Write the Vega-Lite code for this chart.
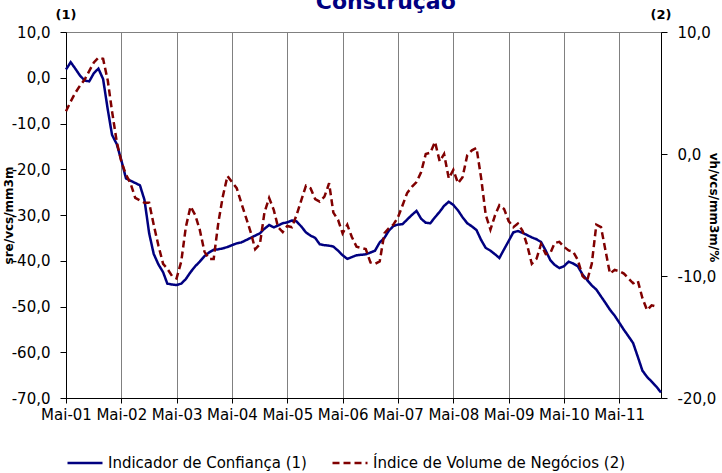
{
  "$schema": "https://vega.github.io/schema/vega-lite/v6.json",
  "width": 595,
  "height": 366,
  "autosize": {"type": "none"},
  "padding": {"left": 66, "top": 32, "right": 61, "bottom": 75},
  "background": "white",
  "config": {
    "font": "DejaVu Sans",
    "view": {"stroke": "#808080", "strokeWidth": 1}
  },
  "data": {
    "values": [
      {"d": "2001-05-01", "c": 1.8, "v": 3.5},
      {"d": "2001-06-01", "c": 3.4, "v": 4.3},
      {"d": "2001-07-01", "c": 2.0, "v": 5.0},
      {"d": "2001-08-01", "c": 0.5, "v": 5.6},
      {"d": "2001-09-01", "c": -0.6, "v": 6.1},
      {"d": "2001-10-01", "c": -0.8, "v": 6.8},
      {"d": "2001-11-01", "c": 1.0, "v": 7.5},
      {"d": "2001-12-01", "c": 2.0, "v": 7.9},
      {"d": "2002-01-01", "c": -0.3, "v": 7.8},
      {"d": "2002-02-01", "c": -7.0, "v": 6.0},
      {"d": "2002-03-01", "c": -12.5, "v": 3.5},
      {"d": "2002-04-01", "c": -14.5, "v": 1.0},
      {"d": "2002-05-01", "c": -18.0, "v": -0.6},
      {"d": "2002-06-01", "c": -22.0, "v": -1.7},
      {"d": "2002-07-01", "c": -22.5, "v": -2.4},
      {"d": "2002-08-01", "c": -23.0, "v": -3.6},
      {"d": "2002-09-01", "c": -23.5, "v": -3.8},
      {"d": "2002-10-01", "c": -26.7, "v": -4.0},
      {"d": "2002-11-01", "c": -34.0, "v": -4.0},
      {"d": "2002-12-01", "c": -38.5, "v": -5.8},
      {"d": "2003-01-01", "c": -40.8, "v": -7.5},
      {"d": "2003-02-01", "c": -42.5, "v": -9.0},
      {"d": "2003-03-01", "c": -45.0, "v": -9.4},
      {"d": "2003-04-01", "c": -45.2, "v": -10.0},
      {"d": "2003-05-01", "c": -45.3, "v": -10.2},
      {"d": "2003-06-01", "c": -45.0, "v": -8.8},
      {"d": "2003-07-01", "c": -44.0, "v": -6.0},
      {"d": "2003-08-01", "c": -42.5, "v": -4.3},
      {"d": "2003-09-01", "c": -41.2, "v": -5.0},
      {"d": "2003-10-01", "c": -40.2, "v": -6.2},
      {"d": "2003-11-01", "c": -39.0, "v": -8.0},
      {"d": "2003-12-01", "c": -38.2, "v": -8.6},
      {"d": "2004-01-01", "c": -37.6, "v": -8.6},
      {"d": "2004-02-01", "c": -37.5, "v": -5.6},
      {"d": "2004-03-01", "c": -37.3, "v": -3.5},
      {"d": "2004-04-01", "c": -37.0, "v": -1.8},
      {"d": "2004-05-01", "c": -36.6, "v": -2.3},
      {"d": "2004-06-01", "c": -36.2, "v": -2.8},
      {"d": "2004-07-01", "c": -36.0, "v": -4.0},
      {"d": "2004-08-01", "c": -35.5, "v": -5.2},
      {"d": "2004-09-01", "c": -35.0, "v": -6.4},
      {"d": "2004-10-01", "c": -34.5, "v": -7.8},
      {"d": "2004-11-01", "c": -34.0, "v": -7.4},
      {"d": "2004-12-01", "c": -33.0, "v": -4.8},
      {"d": "2005-01-01", "c": -32.2, "v": -3.6},
      {"d": "2005-02-01", "c": -32.7, "v": -4.6},
      {"d": "2005-03-01", "c": -32.3, "v": -6.0},
      {"d": "2005-04-01", "c": -31.8, "v": -6.4},
      {"d": "2005-05-01", "c": -31.6, "v": -5.9},
      {"d": "2005-06-01", "c": -31.2, "v": -6.0},
      {"d": "2005-07-01", "c": -31.4, "v": -5.0},
      {"d": "2005-08-01", "c": -32.5, "v": -3.8},
      {"d": "2005-09-01", "c": -33.8, "v": -2.6},
      {"d": "2005-10-01", "c": -34.5, "v": -2.8},
      {"d": "2005-11-01", "c": -35.0, "v": -3.7},
      {"d": "2005-12-01", "c": -36.4, "v": -3.9},
      {"d": "2006-01-01", "c": -36.6, "v": -3.5},
      {"d": "2006-02-01", "c": -36.7, "v": -2.4},
      {"d": "2006-03-01", "c": -36.9, "v": -4.8},
      {"d": "2006-04-01", "c": -37.8, "v": -5.4},
      {"d": "2006-05-01", "c": -38.8, "v": -6.5},
      {"d": "2006-06-01", "c": -39.6, "v": -5.8},
      {"d": "2006-07-01", "c": -39.2, "v": -6.8},
      {"d": "2006-08-01", "c": -38.8, "v": -7.6},
      {"d": "2006-09-01", "c": -38.7, "v": -7.7},
      {"d": "2006-10-01", "c": -38.6, "v": -7.8},
      {"d": "2006-11-01", "c": -38.2, "v": -8.9},
      {"d": "2006-12-01", "c": -37.8, "v": -9.0},
      {"d": "2007-01-01", "c": -36.0, "v": -8.8},
      {"d": "2007-02-01", "c": -35.0, "v": -6.5},
      {"d": "2007-03-01", "c": -33.5, "v": -6.1},
      {"d": "2007-04-01", "c": -32.4, "v": -5.8},
      {"d": "2007-05-01", "c": -32.1, "v": -5.2},
      {"d": "2007-06-01", "c": -32.0, "v": -4.2},
      {"d": "2007-07-01", "c": -31.0, "v": -3.2},
      {"d": "2007-08-01", "c": -30.0, "v": -2.7},
      {"d": "2007-09-01", "c": -29.1, "v": -2.3},
      {"d": "2007-10-01", "c": -30.8, "v": -1.5},
      {"d": "2007-11-01", "c": -31.7, "v": 0.0},
      {"d": "2007-12-01", "c": -31.8, "v": 0.1},
      {"d": "2008-01-01", "c": -30.5, "v": 1.0},
      {"d": "2008-02-01", "c": -29.3, "v": -0.6},
      {"d": "2008-03-01", "c": -28.0, "v": 0.0},
      {"d": "2008-04-01", "c": -27.1, "v": -2.0},
      {"d": "2008-05-01", "c": -27.8, "v": -1.3},
      {"d": "2008-06-01", "c": -29.0, "v": -2.4},
      {"d": "2008-07-01", "c": -30.5, "v": -1.9},
      {"d": "2008-08-01", "c": -31.8, "v": -0.1},
      {"d": "2008-09-01", "c": -32.5, "v": 0.3},
      {"d": "2008-10-01", "c": -33.3, "v": 0.5},
      {"d": "2008-11-01", "c": -35.5, "v": -2.0},
      {"d": "2008-12-01", "c": -37.2, "v": -5.0},
      {"d": "2009-01-01", "c": -37.8, "v": -6.2},
      {"d": "2009-02-01", "c": -38.6, "v": -5.0},
      {"d": "2009-03-01", "c": -39.4, "v": -4.2},
      {"d": "2009-04-01", "c": -37.5, "v": -4.5},
      {"d": "2009-05-01", "c": -35.7, "v": -5.5},
      {"d": "2009-06-01", "c": -33.8, "v": -6.0},
      {"d": "2009-07-01", "c": -33.5, "v": -5.7},
      {"d": "2009-08-01", "c": -33.9, "v": -6.3},
      {"d": "2009-09-01", "c": -34.4, "v": -7.5},
      {"d": "2009-10-01", "c": -34.9, "v": -9.0},
      {"d": "2009-11-01", "c": -35.3, "v": -8.6},
      {"d": "2009-12-01", "c": -35.9, "v": -7.4},
      {"d": "2010-01-01", "c": -37.8, "v": -8.2},
      {"d": "2010-02-01", "c": -39.9, "v": -8.1},
      {"d": "2010-03-01", "c": -40.9, "v": -7.3},
      {"d": "2010-04-01", "c": -41.6, "v": -7.2},
      {"d": "2010-05-01", "c": -41.2, "v": -7.6},
      {"d": "2010-06-01", "c": -40.2, "v": -7.9},
      {"d": "2010-07-01", "c": -40.6, "v": -8.0},
      {"d": "2010-08-01", "c": -41.2, "v": -8.7},
      {"d": "2010-09-01", "c": -43.0, "v": -10.0},
      {"d": "2010-10-01", "c": -44.2, "v": -10.4},
      {"d": "2010-11-01", "c": -45.4, "v": -9.0},
      {"d": "2010-12-01", "c": -46.3, "v": -5.8},
      {"d": "2011-01-01", "c": -47.8, "v": -6.0},
      {"d": "2011-02-01", "c": -49.3, "v": -8.0},
      {"d": "2011-03-01", "c": -50.7, "v": -9.8},
      {"d": "2011-04-01", "c": -52.0, "v": -9.5},
      {"d": "2011-05-01", "c": -53.5, "v": -9.6},
      {"d": "2011-06-01", "c": -55.1, "v": -9.8},
      {"d": "2011-07-01", "c": -56.5, "v": -10.2},
      {"d": "2011-08-01", "c": -58.0, "v": -10.6},
      {"d": "2011-09-01", "c": -61.0, "v": -10.4},
      {"d": "2011-10-01", "c": -64.0, "v": -11.8},
      {"d": "2011-11-01", "c": -65.4, "v": -12.8},
      {"d": "2011-12-01", "c": -66.4, "v": -12.4},
      {"d": "2012-01-01", "c": -67.5, "v": -12.5},
      {"d": "2012-02-01", "c": -68.8}
    ]
  },
  "encoding": {
    "x": {
      "field": "d",
      "type": "temporal",
      "title": null,
      "scale": {
        "type": "utc",
        "domain": [
          {"year": 2001, "month": 5, "date": 1, "utc": true},
          {"year": 2012, "month": 2, "date": 1, "utc": true}
        ]
      },
      "axis": {
        "values": [
          {"year": 2001, "month": 5, "date": 1, "utc": true},
          {"year": 2002, "month": 5, "date": 1, "utc": true},
          {"year": 2003, "month": 5, "date": 1, "utc": true},
          {"year": 2004, "month": 5, "date": 1, "utc": true},
          {"year": 2005, "month": 5, "date": 1, "utc": true},
          {"year": 2006, "month": 5, "date": 1, "utc": true},
          {"year": 2007, "month": 5, "date": 1, "utc": true},
          {"year": 2008, "month": 5, "date": 1, "utc": true},
          {"year": 2009, "month": 5, "date": 1, "utc": true},
          {"year": 2010, "month": 5, "date": 1, "utc": true},
          {"year": 2011, "month": 5, "date": 1, "utc": true}
        ],
        "labelExpr": "'Mai-' + utcFormat(datum.value, '%y')",
        "labelFontSize": 15,
        "labelColor": "black",
        "labelPadding": 4,
        "labelOverlap": false,
        "labelFlush": false,
        "grid": true,
        "gridColor": "#808080",
        "gridWidth": 1,
        "domainColor": "black",
        "domainWidth": 1,
        "tickColor": "black",
        "tickSize": 5
      }
    }
  },
  "layer": [
    {
      "layer": [
        {
          "mark": {"type": "line", "strokeWidth": 2.5},
          "encoding": {
            "y": {
              "field": "c",
              "type": "quantitative",
              "scale": {"domain": [-70, 10], "nice": false, "zero": false},
              "axis": {
                "orient": "left",
                "title": "sre/vcs/mm3m",
                "titleFontSize": 12,
                "titleFontWeight": "bold",
                "titleColor": "black",
                "titleX": -58,
                "titleY": 183,
                "titleAlign": "center",
                "titleBaseline": "middle",
                "values": [-70, -60, -50, -40, -30, -20, -10, 0, 10],
                "labelExpr": "replace((datum.value < 0 ? '-' : '') + format(abs(datum.value), '.1f'), '.', ',')",
                "labelFontSize": 15,
                "labelColor": "black",
                "labelPadding": 10,
                "grid": false,
                "domainColor": "black",
                "tickColor": "black",
                "tickSize": 6
              }
            },
            "color": {
              "datum": "Indicador de Confiança (1)",
              "type": "nominal",
              "scale": {
                "domain": ["Indicador de Confiança (1)", "Índice de Volume de Negócios (2)"],
                "range": ["#000080", "#800000"]
              },
              "legend": {
                "orient": "bottom",
                "direction": "horizontal",
                "title": null,
                "labelFontSize": 15,
                "labelColor": "black",
                "labelLimit": 0,
                "symbolType": "stroke",
                "symbolSize": 1225,
                "symbolStrokeWidth": 2.5,
                "columnPadding": 20,
                "offset": 22
              }
            },
            "strokeDash": {
              "datum": "Indicador de Confiança (1)",
              "type": "nominal",
              "scale": {
                "domain": ["Indicador de Confiança (1)", "Índice de Volume de Negócios (2)"],
                "range": [[1, 0], [7, 4]]
              },
              "legend": {
                "orient": "bottom",
                "direction": "horizontal",
                "title": null,
                "labelFontSize": 15,
                "labelColor": "black",
                "labelLimit": 0,
                "symbolType": "stroke",
                "symbolSize": 1225,
                "symbolStrokeWidth": 2.5,
                "columnPadding": 20,
                "offset": 22
              }
            }
          }
        },
        {
          "data": {
            "values": [
              {"d": "2001-05-01", "c": 10, "t": "(1)"},
              {"d": "2012-02-01", "c": 10, "t": "(2)"}
            ]
          },
          "mark": {"type": "text", "fontWeight": "bold", "fontSize": 13, "dy": -17, "align": "center", "baseline": "middle", "color": "black"},
          "encoding": {
            "y": {
              "field": "c",
              "type": "quantitative",
              "scale": {"domain": [-70, 10], "nice": false, "zero": false},
              "axis": {
                "orient": "left",
                "title": "sre/vcs/mm3m",
                "titleFontSize": 12,
                "titleFontWeight": "bold",
                "titleColor": "black",
                "titleX": -58,
                "titleY": 183,
                "titleAlign": "center",
                "titleBaseline": "middle",
                "values": [-70, -60, -50, -40, -30, -20, -10, 0, 10],
                "labelExpr": "replace((datum.value < 0 ? '-' : '') + format(abs(datum.value), '.1f'), '.', ',')",
                "labelFontSize": 15,
                "labelColor": "black",
                "labelPadding": 10,
                "grid": false,
                "domainColor": "black",
                "tickColor": "black",
                "tickSize": 6
              }
            },
            "text": {"field": "t"}
          }
        },
        {
          "data": {
            "values": [
              {"d": "2007-02-10", "c": 10, "t": "Construção"}
            ]
          },
          "mark": {"type": "text", "fontWeight": "bold", "fontSize": 22, "dy": -23, "align": "center", "baseline": "alphabetic", "color": "#000080"},
          "encoding": {
            "y": {
              "field": "c",
              "type": "quantitative",
              "scale": {"domain": [-70, 10], "nice": false, "zero": false},
              "axis": {
                "orient": "left",
                "title": "sre/vcs/mm3m",
                "titleFontSize": 12,
                "titleFontWeight": "bold",
                "titleColor": "black",
                "titleX": -58,
                "titleY": 183,
                "titleAlign": "center",
                "titleBaseline": "middle",
                "values": [-70, -60, -50, -40, -30, -20, -10, 0, 10],
                "labelExpr": "replace((datum.value < 0 ? '-' : '') + format(abs(datum.value), '.1f'), '.', ',')",
                "labelFontSize": 15,
                "labelColor": "black",
                "labelPadding": 10,
                "grid": false,
                "domainColor": "black",
                "tickColor": "black",
                "tickSize": 6
              }
            },
            "text": {"field": "t"}
          }
        }
      ]
    },
    {
      "mark": {"type": "line", "strokeWidth": 2.5},
      "encoding": {
        "y": {
          "field": "v",
          "type": "quantitative",
          "scale": {"domain": [-20, 10], "nice": false, "zero": false},
          "axis": {
            "orient": "right",
            "title": "vh/vcs/mm3m/%",
            "titleAngle": 90,
            "titleFontSize": 12,
            "titleFontWeight": "bold",
            "titleColor": "black",
            "titleX": 52,
            "titleY": 175,
            "titleAlign": "center",
            "titleBaseline": "middle",
            "values": [-20, -10, 0, 10],
            "labelExpr": "replace((datum.value < 0 ? '-' : '') + format(abs(datum.value), '.1f'), '.', ',')",
            "labelFontSize": 15,
            "labelColor": "black",
            "labelPadding": 10,
            "grid": false,
            "domainColor": "black",
            "tickColor": "black",
            "tickSize": 6
          }
        },
        "color": {"datum": "Índice de Volume de Negócios (2)", "type": "nominal"},
        "strokeDash": {"datum": "Índice de Volume de Negócios (2)", "type": "nominal"}
      }
    }
  ],
  "resolve": {"scale": {"y": "independent"}}
}
